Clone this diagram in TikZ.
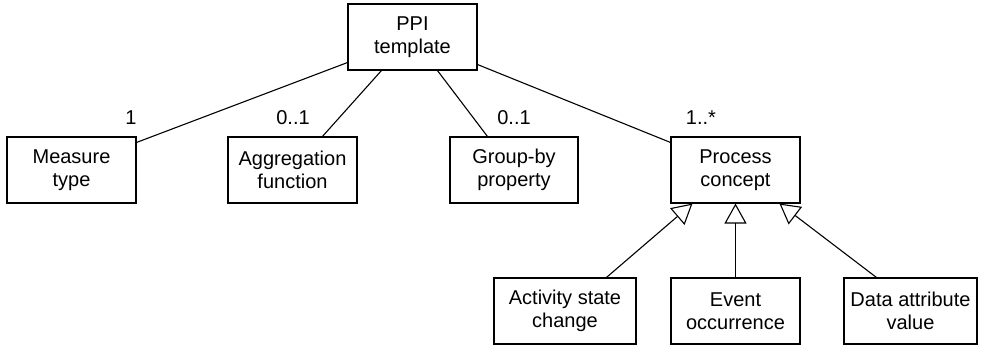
\documentclass[tikz,border=0pt]{standalone}
\usepackage{fontspec}
\setmainfont{Liberation Sans}
\usetikzlibrary{arrows.meta,calc}
\begin{document}
\begin{tikzpicture}[x=1pt,y=-1pt,
  umlbox/.style={draw,line width=1.1pt,inner sep=0pt,align=center,
    font=\fontsize{20}{23}\selectfont,minimum height=66pt},
  assoc/.style={line width=1.1pt},
  gen/.style={line width=1.1pt,-{Triangle[open,length=20pt,width=22pt,line width=1.1pt]}},
  mult/.style={font=\fontsize{20}{23}\selectfont,inner sep=0pt}]
\useasboundingbox (0,0) rectangle (985,347);
\node[umlbox,minimum width=129pt] (ppi) at (412.5,37) {PPI\\template};
\node[umlbox,minimum width=129pt] (measure) at (71.5,170) {Measure\\type};
\node[umlbox,minimum width=129pt] (agg) at (292.5,170) {Aggregation\\function};
\node[umlbox,minimum width=128pt] (grp) at (514,170) {Group-by\\property};
\node[umlbox,minimum width=129pt] (proc) at (735.5,170) {Process\\concept};
\node[umlbox,minimum width=142pt] (act) at (565,311) {Activity state\\change};
\node[umlbox,minimum width=129pt] (evt) at (735.5,311) {Event\\occurrence};
\node[umlbox,minimum width=133pt] (dat) at (910.5,311) {Data attribute\\value};
\draw[assoc] ([yshift=8pt]ppi.south west) -- ([yshift=-6pt]measure.north east);
\draw[assoc] ([xshift=34pt]ppi.south west) -- ([xshift=95pt]agg.north west);
\draw[assoc] ([xshift=90pt]ppi.south west) -- ([xshift=38pt]grp.north west);
\draw[assoc] ([yshift=6pt]ppi.south east) -- ([yshift=-6pt]proc.north west);
\node[mult] (m1) at (131,118) {1};
\node[mult] (m2) at (293,118) {0..1};
\node[mult] (m3) at (514,118) {0..1};
\node[mult] (m4) at (701,118) {1..*};
\draw[gen] ([xshift=113pt]act.north west) -- ([xshift=22pt]proc.south west);
\draw[gen] (evt.north) -- (proc.south);
\draw[gen] ([xshift=33pt]dat.north west) -- ([xshift=109pt]proc.south west);
\end{tikzpicture}
\end{document}
